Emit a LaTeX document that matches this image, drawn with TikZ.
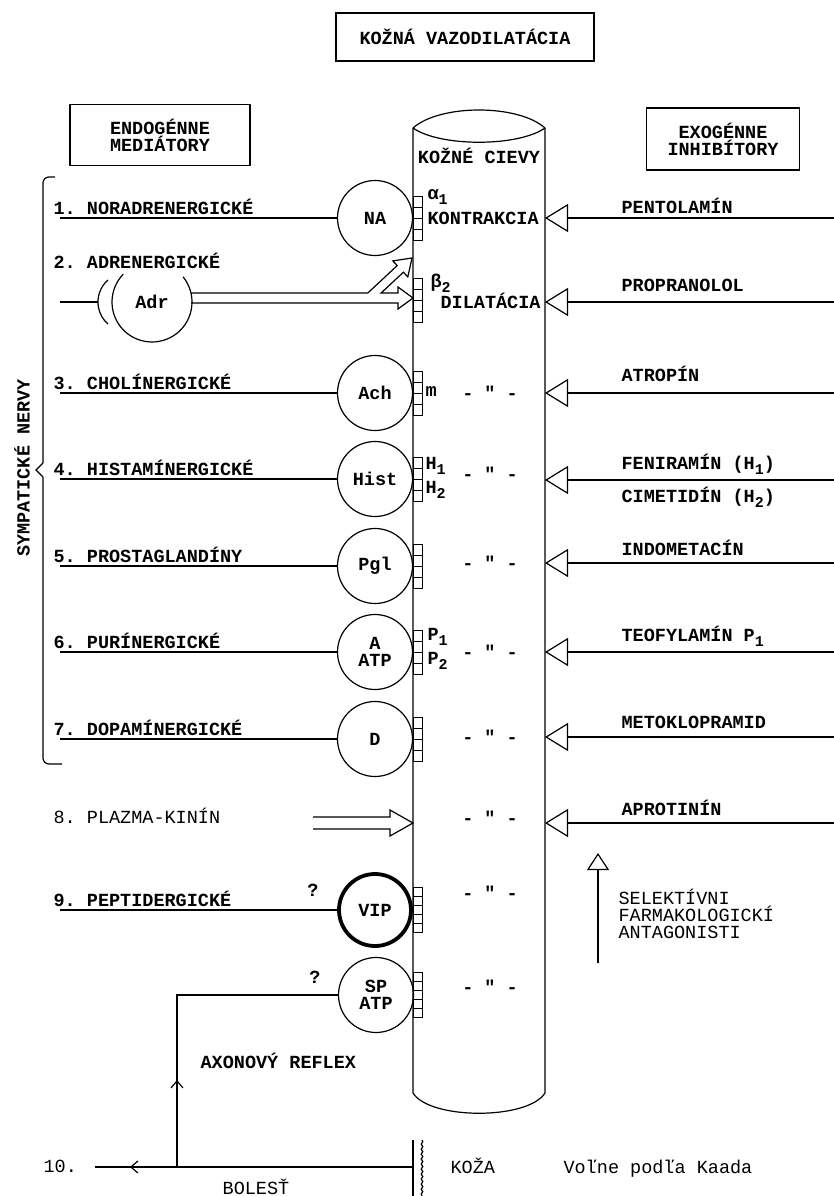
\documentclass[tikz,border=0pt]{standalone}
\usepackage{fontspec}
\setmonofont{Liberation Mono}
\usetikzlibrary{arrows.meta,decorations.pathmorphing}
\newcommand{\lowidx}[1]{\raisebox{-5pt}{\fontsize{15}{15}\selectfont #1}}

\begin{document}
\begin{tikzpicture}[x=1pt,y=-1pt,line width=1.2pt,
  tw/.style={font=\ttfamily\bfseries\fontsize{18.5}{17}\selectfont,inner sep=0pt},
  thin/.style={font=\ttfamily\fontsize{18.5}{17}\selectfont,inner sep=0pt},
  lab/.style={tw,anchor=base west},
  hdr/.style={draw,tw,align=center},
  med/.style={draw,circle,minimum size=75pt,inner sep=0pt,tw,align=center},
  inh/.style={-{Triangle[open,length=23pt,width=28pt]}},
  barb/.style={-{Straight Barb[length=7pt,width=12pt]}}]
  \useasboundingbox (0,0) rectangle (834,1196);

  % headings
  \node[hdr,minimum width=258pt,minimum height=48pt] (title) at (465,37) {KOŽNÁ VAZODILATÁCIA};
  \node[hdr,minimum width=180pt,minimum height=61pt] (endo) at (160,135) {ENDOGÉNNE\\MEDIÁTORY};
  \node[hdr,minimum width=153pt,minimum height=62pt] (exo) at (723,139) {EXOGÉNNE\\INHIBÍTORY};

  % the vessel
  \draw (413,128) .. controls (440,104) and (518,104) .. (545,128);
  \draw (413,128) .. controls (440,147) and (518,147) .. (545,128);
  \draw (413,128) -- (413,1093) .. controls (430,1120) and (528,1120) .. (545,1093) -- (545,128);
  \node[tw] (cievy) at (479,156) {KOŽNÉ CIEVY};

  % receptors on the wall
  \foreach \c/\n/\h in {218/4/11,300/4/11,393/4/11,479/4/11,566/4/11,652/4/11,739/4/11,910/5/9,995/5/9}
    \foreach \k in {1,...,\n}
      \draw[line width=1pt] (413,{\c-\n*\h/2+(\k-1)*\h}) rectangle ++(9,\h);
  \node[tw,anchor=west] (alpha) at (427,197) {α\lowidx{1}};
  \node[tw,anchor=west] (kontr) at (427,218) {KONTRAKCIA};
  \node[tw,anchor=west] (beta) at (430,283) {β\lowidx{2}};
  \node[tw,anchor=west] (dilat) at (440,301) {DILATÁCIA};
  \node[tw,anchor=west] (rm) at (425,392) {m};
  \node[tw,anchor=west] (rh1) at (425,466) {H\lowidx{1}};
  \node[tw,anchor=west] (rh2) at (425,490) {H\lowidx{2}};
  \node[tw,anchor=west] (rp1) at (427,637) {P\lowidx{1}};
  \node[tw,anchor=west] (rp2) at (427,661) {P\lowidx{2}};
  \foreach \y in {393,474,563,652,737,818,893,987}
    \node[tw] (dit\y) at (490,\y) {- " -};

  % mediators
  \node[med] (NA) at (375,218) {NA};
  \node[circle,minimum size=80pt,inner sep=0pt,tw] (Adr) at (152,302) {Adr};
  \node[med] (Ach) at (375,393) {Ach};
  \node[med] (Hist) at (375,479) {Hist};
  \node[med] (Pgl) at (375,566) {Pgl};
  \node[med] (ATP) at (375,652) {A\\ATP};
  \node[med] (D) at (375,739) {D};
  \node[med,line width=3.8pt,minimum size=72pt] (VIP) at (375,910) {VIP};
  \node[med] (SP) at (376,995) {SP\\ATP};

  \foreach \nd/\y/\txt in {NA/218/1. NORADRENERGICKÉ,Ach/393/3. CHOLÍNERGICKÉ,
      Hist/479/4. HISTAMÍNERGICKÉ,Pgl/566/5. PROSTAGLANDÍNY,ATP/652/6. PURÍNERGICKÉ,
      D/739/7. DOPAMÍNERGICKÉ,VIP/910/9. PEPTIDERGICKÉ}{
    \coordinate (s\nd) at (60,\y);
    \draw (s\nd) -- (\nd);
    \node[lab] (l\nd) at (53,\y-4) {\txt};
  }

  % adrenergic: circulating adrenaline
  \node[lab] (lAdr) at (53,268) {2. ADRENERGICKÉ};
  \coordinate (sAdr) at (60,302);
  \coordinate (pAdr) at (98,302);
  \draw (sAdr) -- (pAdr);
  \draw (108,280) arc[start angle=-131,end angle=-229,radius=29.2];
  \draw ([shift={(-39:40)}]Adr.center) arc[start angle=-39,end angle=224,radius=40];
  \draw (191,293) -- (367.8,293) -- (397.2,265.6) -- (392.8,260.9) -- (412,258)
    -- (407.8,276.9) -- (403.4,272.2) -- (381.1,293) -- (398,293) -- (398,287)
    -- (413,298) -- (398,309) -- (398,303) -- (191,303);

  % plasma kinin
  \node[thin,anchor=base west] (l8) at (53,823) {8. PLAZMA-KINÍN};
  \draw (313,817) -- (390,817) -- (390,810) -- (413,823) -- (390,836) -- (390,829) -- (313,829);

  \node[tw] (q9) at (313,890) {?};
  \node[tw] (qsp) at (315,977) {?};

  % the braced group
  \draw[rounded corners=6pt] (55,177) -- (43,177) -- (43,463);
  \draw (43,463) -- (36,470) -- (43,477);
  \draw[rounded corners=6pt] (43,477) -- (43,764) -- (62,764);
  \node[tw,rotate=90] (symp) at (22,468) {SYMPATICKÉ NERVY};

  % inhibitors
  \foreach \y/\nm in {218/pento,302/propr,393/atrop,480/fenir,563/indom,652/teof,737/metok,823/aprot}{
    \coordinate (in\nm) at (834,\y);
    \coordinate (w\nm) at (545,\y);
    \draw[inh] (in\nm) -- (w\nm);
  }
  \node[lab] (tpento) at (621,213) {PENTOLAMÍN};
  \node[lab] (tpropr) at (621,291) {PROPRANOLOL};
  \node[lab] (tatrop) at (621,381) {ATROPÍN};
  \node[lab] (tfenir) at (621,469) {FENIRAMÍN (H\lowidx{1})};
  \node[lab] (tcimet) at (621,502) {CIMETIDÍN (H\lowidx{2})};
  \node[lab] (tindom) at (621,555) {INDOMETACÍN};
  \node[lab] (tteof) at (621,641) {TEOFYLAMÍN P\lowidx{1}};
  \node[lab] (tmetok) at (621,728) {METOKLOPRAMID};
  \node[lab] (taprot) at (621,815) {APROTINÍN};

  \coordinate (selB) at (598,963);
  \coordinate (selT) at (598,853);
  \draw[-{Triangle[open,length=17pt,width=22pt]}] (selB) -- (selT);
  \node[thin,anchor=north west,align=left] (sel) at (618,888) {SELEKTÍVNI\\FARMAKOLOGICKÍ\\ANTAGONISTI};

  % axon reflex and skin
  \coordinate (skin) at (413,1167);
  \coordinate (j10) at (177,1167);
  \coordinate (e10) at (95,1167);
  \coordinate (m10) at (130,1167);
  \coordinate (up10) at (177,1080);
  \draw (skin) -- (e10);
  \draw[barb] (j10) -- (m10);
  \draw[barb] (j10) -- (up10);
  \draw (j10) |- (SP.west);
  \draw (413,1140) -- (413,1196);
  \draw[decorate,decoration={snake,amplitude=0.8pt,segment length=5pt}] (422,1140) -- (422,1196);
  \node[thin,anchor=base west] (n10) at (43,1172) {10.};
  \node[tw,anchor=base west] (axon) at (200,1068) {AXONOVÝ REFLEX};
  \node[thin] (bolest) at (256,1187) {BOLESŤ};
  \node[thin,anchor=base west] (koza) at (450,1173) {KOŽA};
  \node[thin,anchor=base west] (kaada) at (563,1173) {Voľne podľa Kaada};
\end{tikzpicture}
\end{document}
